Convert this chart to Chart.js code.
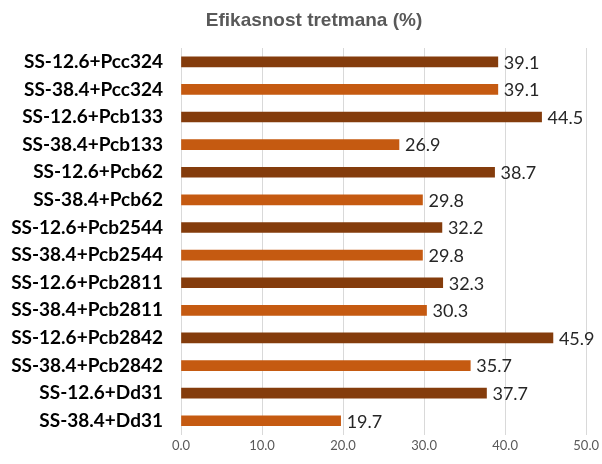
<!DOCTYPE html>
<html>
<head>
<meta charset="utf-8">
<script src="https://cdn.jsdelivr.net/npm/chart.js@4/dist/chart.umd.min.js"></script>
<style>
  html, body { margin: 0; padding: 0; background: #fff; }
  #wrap { width: 602px; height: 464px; }
</style>
</head>
<body>
<div id="wrap"><canvas id="c" width="602" height="464"></canvas></div>
<script>
const categories = [
  "SS-12.6+Pcc324", "SS-38.4+Pcc324",
  "SS-12.6+Pcb133", "SS-38.4+Pcb133",
  "SS-12.6+Pcb62", "SS-38.4+Pcb62",
  "SS-12.6+Pcb2544", "SS-38.4+Pcb2544",
  "SS-12.6+Pcb2811", "SS-38.4+Pcb2811",
  "SS-12.6+Pcb2842", "SS-38.4+Pcb2842",
  "SS-12.6+Dd31", "SS-38.4+Dd31"
];
const efficacy = [39.1, 39.1, 44.5, 26.9, 38.7, 29.8, 32.2, 29.8, 32.3, 30.3, 45.9, 35.7, 37.7, 19.7];
const xTicks = [0, 10, 20, 30, 40, 50];
const chartTitle = "Efikasnost tretmana (%)";

const DARK = "#843C0C";
const LIGHT = "#C55A11";
const barColors = categories.map(c => c.startsWith("SS-12.6") ? DARK : LIGHT);

// heading above the plot
const heading = {
  id: "heading",
  afterDraw(chart) {
    const ctx = chart.ctx;
    ctx.save();
    ctx.font = "bold 19px 'Liberation Sans', Arial, sans-serif";
    ctx.fillStyle = "#595959";
    ctx.textAlign = "center";
    ctx.textBaseline = "middle";
    ctx.fillText(chartTitle, 314, 21);
    ctx.restore();
  }
};

// writes each bar's value just past its end
const valueLabels = {
  id: "valueLabels",
  afterDatasetsDraw(chart) {
    const ctx = chart.ctx;
    const meta = chart.getDatasetMeta(0);
    ctx.save();
    ctx.font = "18px Lato, 'Open Sans', sans-serif";
    ctx.fillStyle = "#262626";
    ctx.textAlign = "left";
    ctx.textBaseline = "middle";
    meta.data.forEach((bar, i) => {
      ctx.fillText(efficacy[i].toFixed(1), bar.x + 6, bar.y + 1);
    });
    ctx.restore();
  }
};

new Chart(document.getElementById("c"), {
  type: "bar",
  data: {
    labels: categories,
    datasets: [{
      data: efficacy,
      backgroundColor: barColors,
      borderWidth: 0,
      barThickness: 10
    }]
  },
  options: {
    indexAxis: "y",
    responsive: false,
    animation: false,
    layout: { padding: { left: 0, right: 2, top: 48, bottom: 0 } },
    plugins: {
      legend: { display: false },
      tooltip: { enabled: false },
      title: { display: false }
    },
    scales: {
      x: {
        min: 0,
        max: 50,
        afterBuildTicks(axis) { axis.ticks = xTicks.map(v => ({ value: v })); },
        ticks: {
          color: "#595959",
          font: { family: "Lato, 'Open Sans', sans-serif", size: 13 },
          padding: 3,
          maxRotation: 0,
          callback: v => Number(v).toFixed(1)
        },
        grid: { color: "#D9D9D9", drawTicks: false, lineWidth: 1 },
        border: { display: false }
      },
      y: {
        afterFit(axis) { axis.width = 181; },
        ticks: {
          color: "#000000",
          font: { family: "Lato, 'Open Sans', sans-serif", size: 19, weight: "bold" },
          padding: 18
        },
        grid: { display: false, drawTicks: false },
        border: { display: false }
      }
    }
  },
  plugins: [valueLabels, heading]
});
</script>
</body>
</html>
